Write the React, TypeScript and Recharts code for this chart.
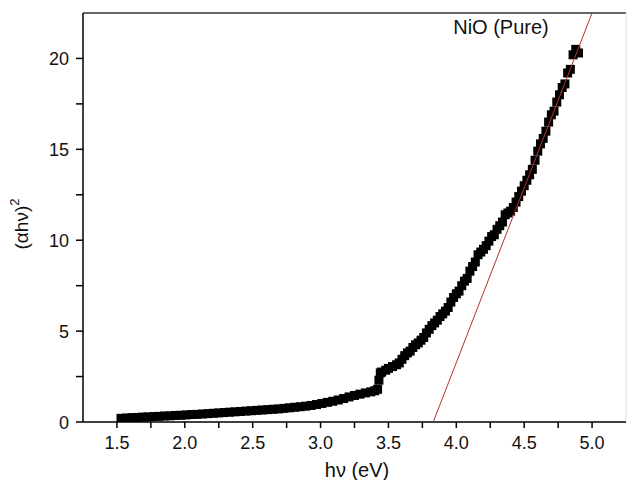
import React from 'react'
import { ScatterChart, Scatter, XAxis, YAxis, ReferenceLine } from 'recharts'

// photon energy hv (eV)
const hv = [
    1.53, 1.57, 1.61, 1.65, 1.69, 1.73, 1.77, 1.81, 1.85, 1.89, 1.93, 1.97,
    2.01, 2.05, 2.09, 2.13, 2.17, 2.21, 2.25, 2.29, 2.33, 2.37, 2.41, 2.45,
    2.49, 2.53, 2.57, 2.61, 2.65, 2.69, 2.73, 2.77, 2.81, 2.85, 2.89, 2.93,
    2.97, 3.01, 3.05, 3.09, 3.13, 3.17, 3.21, 3.25, 3.29, 3.33, 3.37, 3.40,
    3.42, 3.43, 3.44, 3.45, 3.48, 3.50, 3.53, 3.56, 3.58, 3.60, 3.62, 3.64,
    3.66, 3.68, 3.70, 3.72, 3.74, 3.76, 3.78, 3.80, 3.82, 3.84, 3.86, 3.88,
    3.90, 3.92, 3.94, 3.96, 3.98, 4.00, 4.02, 4.04, 4.06, 4.08, 4.10, 4.12,
    4.14, 4.16, 4.18, 4.20, 4.22, 4.24, 4.26, 4.28, 4.30, 4.32, 4.34, 4.36,
    4.38, 4.40, 4.42, 4.44, 4.46, 4.48, 4.50, 4.52, 4.54, 4.56, 4.58, 4.60,
    4.62, 4.64, 4.66, 4.68, 4.70, 4.72, 4.74, 4.76, 4.78, 4.80, 4.82, 4.84,
    4.86, 4.88, 4.90,
]

// (alpha hv)^2 for each hv above
const ahv2 = [
    0.20, 0.22, 0.24, 0.25, 0.27, 0.28, 0.30, 0.31, 0.33, 0.34, 0.36, 0.37,
    0.39, 0.41, 0.42, 0.44, 0.46, 0.48, 0.50, 0.52, 0.54, 0.56, 0.58, 0.60,
    0.62, 0.64, 0.66, 0.68, 0.70, 0.72, 0.75, 0.78, 0.81, 0.84, 0.87, 0.91,
    0.96, 1.02, 1.08, 1.14, 1.21, 1.29, 1.38, 1.46, 1.53, 1.60, 1.66, 1.72,
    1.80, 2.30, 2.70, 2.75, 2.85, 2.95, 3.05, 3.15, 3.25, 3.45, 3.65, 3.80,
    3.90, 4.10, 4.25, 4.35, 4.50, 4.65, 4.90, 5.10, 5.30, 5.45, 5.60, 5.80,
    5.95, 6.10, 6.30, 6.60, 6.85, 7.05, 7.20, 7.50, 7.75, 7.90, 8.30, 8.55,
    8.80, 9.20, 9.35, 9.50, 9.70, 9.95, 10.20, 10.30, 10.60, 10.80, 11.00, 11.40,
    11.50, 11.60, 11.80, 12.10, 12.40, 12.70, 13.00, 13.30, 13.60, 13.90, 14.40, 14.90,
    15.30, 15.60, 16.00, 16.50, 16.90, 17.10, 17.60, 18.00, 18.40, 18.60, 19.20, 19.40,
    20.20, 20.50, 20.30,
]

// linear fit (Tauc extrapolation) end points
const fitX = [3.83, 5.0]
const fitY = [0, 22.5]

const xTicks = [1.25, 1.5, 1.75, 2.0, 2.25, 2.5, 2.75, 3.0, 3.25, 3.5, 3.75, 4.0, 4.25, 4.5, 4.75, 5.0, 5.25]
const xLabels = [1.5, 2.0, 2.5, 3.0, 3.5, 4.0, 4.5, 5.0]
const yTicks = [0, 2.5, 5, 7.5, 10, 12.5, 15, 17.5, 20, 22.5]
const yLabels = [0, 5, 10, 15, 20]

const points = hv.map((x, i) => ({ x, y: ahv2[i] }))
const fitLine = fitX.map((x, i) => ({ x, y: fitY[i] }))

const font = '"Liberation Sans", Arial, sans-serif'

const SquareDot = (props: any) => {
    const { cx, cy } = props
    if (cx == null || cy == null) return null
    return <rect x={cx - 4.5} y={cy - 4.5} width={9} height={9} fill="#000" />
}

const XTick = (props: any) => {
    const { x, y, payload } = props
    const v = payload.value
    const major = xLabels.some((m) => Math.abs(m - v) < 1e-6)
    if (Math.abs(v - 1.25) < 1e-6 || Math.abs(v - 5.25) < 1e-6) return null
    return (
        <g>
            <line x1={x} y1={y} x2={x} y2={y + 6} stroke="#000" strokeWidth={1.5} />
            {major && (
                <text x={x} y={y + 27} textAnchor="middle" fontSize={18} fontFamily={font} fill="#111">
                    {v.toFixed(1)}
                </text>
            )}
        </g>
    )
}

const YTick = (props: any) => {
    const { x, y, payload } = props
    const v = payload.value
    const major = yLabels.includes(v)
    if (Math.abs(v - 22.5) < 1e-6) return null
    return (
        <g>
            <line x1={x} y1={y} x2={x - 7} y2={y} stroke="#000" strokeWidth={1.5} />
            {major && (
                <text x={x - 14} y={y + 6.5} textAnchor="end" fontSize={18} fontFamily={font} fill="#111">
                    {v}
                </text>
            )}
        </g>
    )
}

const YLabel = () => (
    <text transform="translate(28, 224) rotate(-90)" textAnchor="middle" fontSize={19} fontFamily={font} fill="#111">
        (αhν)<tspan dy={-9} fontSize={13}>2</tspan>
    </text>
)

const XLabel = () => (
    <text x={357} y={477} textAnchor="middle" fontSize={20} fontFamily={font} fill="#111">
        hν (eV)
    </text>
)

const Title = () => (
    <text x={501} y={34} textAnchor="middle" fontSize={20} fontFamily={font} fill="#111">
        NiO (Pure)
    </text>
)

export default function App() {
    return (
        <div style={{ position: 'absolute', left: 0, top: 0, background: '#fff' }}>
            <ScatterChart width={627} height={480} margin={{ top: 13, right: 1, bottom: 0, left: 0 }}>
                <XAxis
                    type="number"
                    dataKey="x"
                    domain={[1.25, 5.25]}
                    ticks={xTicks}
                    interval={0}
                    tick={<XTick />}
                    tickLine={false}
                    tickSize={0}
                    tickMargin={0}
                    height={58}
                    axisLine={{ stroke: '#000', strokeWidth: 1.5 }}
                    allowDataOverflow
                    label={<XLabel />}
                />
                <YAxis
                    type="number"
                    dataKey="y"
                    domain={[0, 22.5]}
                    ticks={yTicks}
                    interval={0}
                    tick={<YTick />}
                    tickLine={false}
                    tickSize={0}
                    tickMargin={0}
                    width={83}
                    axisLine={{ stroke: '#000', strokeWidth: 1.5 }}
                    allowDataOverflow
                    label={<YLabel />}
                />
                <ReferenceLine y={22.5} stroke="#333" strokeWidth={1.5} label={<Title />} />
                <ReferenceLine x={5.25} stroke="#ddd" strokeWidth={1} />
                <Scatter data={points} shape={<SquareDot />} isAnimationActive={false} />
                <Scatter
                    data={fitLine}
                    line={{ stroke: '#b5312f', strokeWidth: 1 }}
                    shape={() => null}
                    isAnimationActive={false}
                />
            </ScatterChart>
        </div>
    )
}
